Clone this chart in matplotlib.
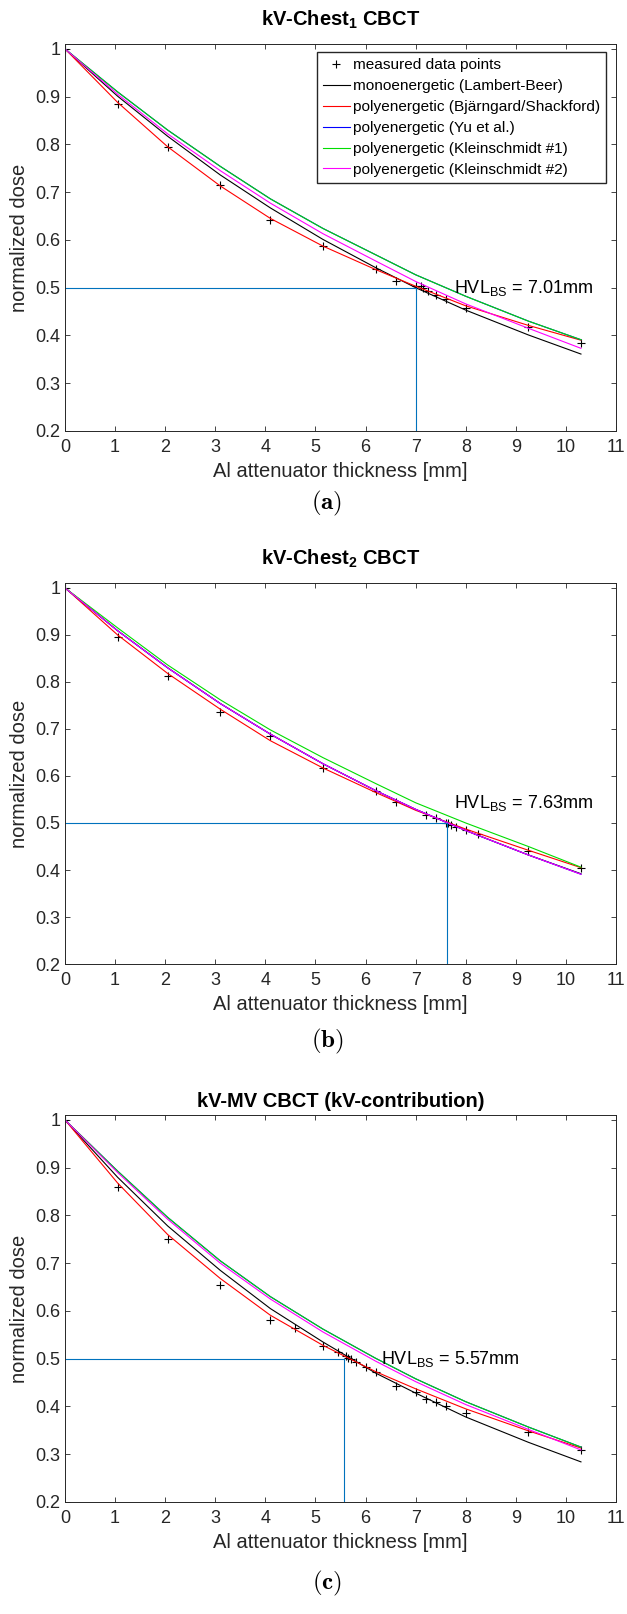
"""Normalized dose vs Al attenuator thickness for three CBCT protocols, with model fits and HVL."""
import matplotlib
matplotlib.use("Agg")
import matplotlib.pyplot as plt
from matplotlib.ticker import FuncFormatter

plt.rcParams["font.family"] = ["Liberation Sans", "DejaVu Sans"]
plt.rcParams["mathtext.fontset"] = "custom"
plt.rcParams["mathtext.rm"] = "Liberation Sans"
plt.rcParams["mathtext.bf"] = "Liberation Sans:bold"

# thicknesses at which the model curves are evaluated [mm]
XC = [0, 1.05, 2.05, 3.1, 4.1, 5.15, 6.2, 7.0, 8.0, 9.25, 10.3]

# panel (a): kV-Chest1
X1 = [0, 1.05, 2.05, 3.1, 4.1, 5.15, 6.2, 6.6, 7.0, 7.1, 7.15, 7.25, 7.4, 7.6, 8.0, 9.25, 10.3]
M1 = [1.0, 0.885, 0.795, 0.714, 0.642, 0.588, 0.539, 0.513, 0.504, 0.503, 0.500, 0.494, 0.485, 0.477, 0.457, 0.417, 0.385]
MONO1 = [1, 0.901, 0.817, 0.736, 0.667, 0.601, 0.542, 0.500, 0.453, 0.401, 0.361]
BJ1 = [1, 0.888, 0.795, 0.713, 0.645, 0.587, 0.538, 0.503, 0.462, 0.421, 0.390]
YU1 = [1, 0.910, 0.830, 0.754, 0.686, 0.624, 0.569, 0.527, 0.482, 0.430, 0.391]
KL1_1 = [1, 0.910, 0.830, 0.754, 0.686, 0.624, 0.569, 0.527, 0.482, 0.430, 0.391]
KL2_1 = [1, 0.905, 0.822, 0.745, 0.677, 0.613, 0.556, 0.513, 0.466, 0.415, 0.373]
HVL1 = 7.01

# panel (b): kV-Chest2
X2 = [0, 1.05, 2.05, 3.1, 4.1, 5.15, 6.2, 6.6, 7.2, 7.4, 7.6, 7.65, 7.7, 7.8, 8.0, 8.25, 9.25, 10.3]
M2 = [1.0, 0.895, 0.813, 0.737, 0.685, 0.616, 0.567, 0.545, 0.518, 0.511, 0.501, 0.499, 0.496, 0.492, 0.485, 0.476, 0.441, 0.404]
MONO2 = [1, 0.909, 0.830, 0.754, 0.689, 0.626, 0.569, 0.529, 0.484, 0.432, 0.392]
BJ2 = [1, 0.900, 0.818, 0.742, 0.675, 0.617, 0.565, 0.527, 0.487, 0.442, 0.405]
YU2 = [1, 0.909, 0.830, 0.754, 0.689, 0.626, 0.569, 0.529, 0.484, 0.432, 0.391]
KL1_2 = [1, 0.915, 0.836, 0.762, 0.698, 0.639, 0.584, 0.543, 0.500, 0.450, 0.406]
KL2_2 = [1, 0.909, 0.830, 0.754, 0.689, 0.626, 0.569, 0.529, 0.484, 0.432, 0.391]
HVL2 = 7.63

# panel (c): kV-MV CBCT
X3 = [0, 1.05, 2.05, 3.1, 4.1, 4.6, 5.15, 5.45, 5.6, 5.65, 5.7, 5.8, 6.0, 6.2, 6.6, 7.0, 7.2, 7.4, 7.6, 8.0, 9.25, 10.3]
M3 = [1.0, 0.859, 0.750, 0.655, 0.582, 0.564, 0.526, 0.514, 0.506, 0.502, 0.499, 0.494, 0.483, 0.473,
      0.443, 0.431, 0.416, 0.409, 0.402, 0.387, 0.346, 0.309]
MONO3 = [1, 0.880, 0.778, 0.685, 0.605, 0.535, 0.470, 0.428, 0.378, 0.325, 0.284]
BJ3 = [1, 0.868, 0.760, 0.668, 0.591, 0.528, 0.473, 0.437, 0.395, 0.349, 0.313]
YU3 = [1, 0.893, 0.796, 0.705, 0.630, 0.562, 0.501, 0.458, 0.410, 0.357, 0.315]
KL1_3 = [1, 0.893, 0.796, 0.705, 0.630, 0.562, 0.501, 0.458, 0.410, 0.357, 0.315]
KL2_3 = [1, 0.890, 0.792, 0.700, 0.625, 0.556, 0.495, 0.452, 0.404, 0.352, 0.309]
HVL3 = 5.57

TITLES = [r"kV-Chest$_{\mathbf{1}}$ CBCT", r"kV-Chest$_{\mathbf{2}}$ CBCT", "kV-MV CBCT (kV-contribution)"]
SUBCAPS = ["a", "b", "c"]
LABELS = ["measured data points", "monoenergetic (Lambert-Beer)", "polyenergetic (Bjärngard/Shackford)",
          "polyenergetic (Yu et al.)", "polyenergetic (Kleinschmidt #1)", "polyenergetic (Kleinschmidt #2)"]
COLORS = ["black", "red", "blue", "#00dd00", "magenta"]
HVL_BLUE = "#0072BD"
AX_GRAY = "#262626"

# (ax bottom, ax height, title pad, hvl text pos, subcaption y) in figure fractions
PANELS = [
    (X1, M1, [MONO1, BJ1, YU1, KL1_1, KL2_1], HVL1, 0.7330, 0.2398, 13, (7.77, 0.489), 0.679),
    (X2, M2, [MONO2, BJ2, YU2, KL1_2, KL2_2], HVL2, 0.4027, 0.2361, 13, (7.77, 0.531), 0.346),
    (X3, M3, [MONO3, BJ3, YU3, KL1_3, KL2_3], HVL3, 0.0694, 0.2398, 6, (6.31, 0.490), 0.010),
]

fig = plt.figure(figsize=(6.27, 16.14), dpi=100)

for k, (xm, ym, curves, hvl, bot, h, tpad, tpos, sub_y) in enumerate(PANELS):
    ax = fig.add_axes([0.1037, bot, 0.8788, h])
    hs = [ax.plot(xm, ym, "+", color="black", ms=5.5, mew=0.8, ls="none")[0]]
    for c, col in zip(curves, COLORS):
        hs.append(ax.plot(XC, c, color=col, lw=0.8)[0])
    ax.plot([0, hvl], [0.5, 0.5], color=HVL_BLUE, lw=0.8)
    ax.plot([hvl, hvl], [0.2, 0.5], color=HVL_BLUE, lw=0.8)
    ax.text(tpos[0], tpos[1], r"HVL$_{\rm BS}$ = %.2fmm" % hvl, fontsize=13, va="baseline", ha="left")

    ax.set_xlim(0, 11)
    ax.set_ylim(0.2, 1.0105)
    ax.set_xticks(range(0, 12))
    ax.set_yticks([0.2, 0.3, 0.4, 0.5, 0.6, 0.7, 0.8, 0.9, 1.0])
    ax.yaxis.set_major_formatter(FuncFormatter(lambda v, p: "%g" % round(v, 2)))
    ax.tick_params(direction="in", top=True, right=True, length=3.8, width=0.6,
                   labelsize=13, colors=AX_GRAY)
    ax.tick_params(axis="x", pad=6)
    ax.tick_params(axis="y", pad=3.5)
    for s in ax.spines.values():
        s.set_color(AX_GRAY); s.set_linewidth(0.7)
    ax.set_xlabel("Al attenuator thickness [mm]", fontsize=14.5, color=AX_GRAY, labelpad=4)
    ax.set_ylabel("normalized dose", fontsize=14.5, color=AX_GRAY, labelpad=4)
    ax.set_title(TITLES[k], fontsize=14.5, fontweight="bold", pad=tpad)

    if k == 0:
        ax.legend(hs, LABELS, loc="upper right", bbox_to_anchor=(0.982, 0.979), borderaxespad=0,
                  fontsize=11.1, fancybox=False, framealpha=1, edgecolor=AX_GRAY,
                  handlelength=1.75, handletextpad=0.2, labelspacing=0.45, borderpad=0.4)

    fig.text(327 / 627, sub_y, r"$\mathbf{(%s)}$" % SUBCAPS[k], fontsize=18, ha="center", va="bottom",
             math_fontfamily="cm")

fig.savefig("out.png", dpi=100)
